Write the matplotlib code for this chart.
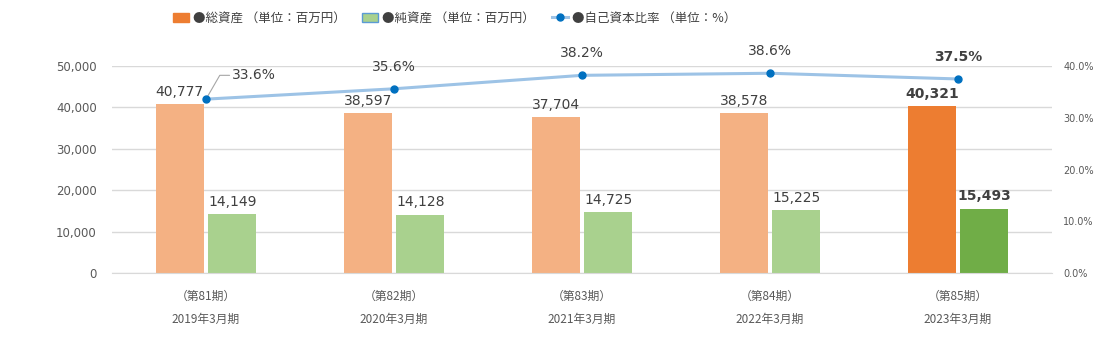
import matplotlib
matplotlib.use("Agg")
import matplotlib.pyplot as plt
import numpy as np
from matplotlib.lines import Line2D
from matplotlib.patches import Patch

plt.rcParams['font.family'] = ['Noto Sans CJK JP', 'DejaVu Sans']

# data
periods = ["（第81期）", "（第82期）", "（第83期）", "（第84期）", "（第85期）"]
years = ["2019年3月期", "2020年3月期", "2021年3月期", "2022年3月期", "2023年3月期"]
total_assets = [40777, 38597, 37704, 38578, 40321]
net_assets = [14149, 14128, 14725, 15225, 15493]
equity_ratio = [33.6, 35.6, 38.2, 38.6, 37.5]

orange_light = "#F4B183"
orange = "#ED7D31"
green_light = "#A9D18E"
green = "#70AD47"
line_col = "#9DC3E6"
marker_col = "#0070C0"
text_col = "#404040"
tick_col = "#595959"

fig = plt.figure(figsize=(10.94, 3.48), dpi=100)
ax = fig.add_axes([0.1024, 0.2155, 0.8592, 0.5948])
ax2 = ax.twinx()

x = np.arange(len(periods))
w = 0.255
gap = 0.024
n = len(periods)
c_total = [orange_light] * (n - 1) + [orange]
c_net = [green_light] * (n - 1) + [green]

ax.bar(x - w / 2 - gap / 2, total_assets, w, color=c_total, zorder=2)
ax.bar(x + w / 2 + gap / 2, net_assets, w, color=c_net, zorder=2)

for i in range(n):
    bold = 'bold' if i == n - 1 else 'normal'
    ax.text(x[i] - w / 2 - gap / 2, total_assets[i] + 1300, f"{total_assets[i]:,}",
            ha='center', va='bottom', fontsize=10, color=text_col, fontweight=bold,
            family='DejaVu Sans')
    ax.text(x[i] + w / 2 + gap / 2, net_assets[i] + 1300, f"{net_assets[i]:,}",
            ha='center', va='bottom', fontsize=10, color=text_col, fontweight=bold,
            family='DejaVu Sans')

ax.set_xlim(-0.5, n - 0.5)
ax.set_ylim(0, 50000)
ax.set_yticks(np.arange(0, 50001, 10000))
ax.set_yticklabels([f"{v:,}" for v in range(0, 50001, 10000)], family='DejaVu Sans')
ax.grid(axis='y', color='#D9D9D9', linewidth=1, zorder=0)
ax.set_axisbelow(True)
ax.tick_params(axis='y', length=0, labelsize=8.5, labelcolor=tick_col, pad=11)
ax.set_xticks(x)
ax.set_xticklabels([f"{p}\n{y}" for p, y in zip(periods, years)], linespacing=2.0)
ax.tick_params(axis='x', length=0, labelsize=8.5, labelcolor=tick_col, pad=12)
for s in ax.spines.values():
    s.set_visible(False)
ax.spines['bottom'].set_visible(True)
ax.spines['bottom'].set_color('#D9D9D9')

ax2.plot(x, equity_ratio, color=line_col, linewidth=2.2, zorder=3)
ax2.plot(x, equity_ratio, 'o', color=marker_col, markersize=5, zorder=4)
ax2.set_ylim(0, 40)
ax2.set_yticks(np.arange(0, 41, 10))
ax2.set_yticklabels([f"{v:.1f}%" for v in range(0, 41, 10)], family='DejaVu Sans')
ax2.tick_params(axis='y', length=0, labelsize=7, labelcolor=tick_col, pad=8)
for s in ax2.spines.values():
    s.set_visible(False)

# ratio labels
ax2.annotate(f"{equity_ratio[0]}%", xy=(x[0], equity_ratio[0]), xytext=(x[0] + 0.14, 38.2),
             ha='left', va='center', fontsize=10, color=text_col, family='DejaVu Sans',
             arrowprops=dict(arrowstyle='-', color='#A6A6A6', linewidth=0.8,
                             shrinkA=0, shrinkB=2,
                             connectionstyle='angle,angleA=0,angleB=60,rad=0'))
for i in range(1, n):
    bold = 'bold' if i == n - 1 else 'normal'
    ax2.text(x[i], equity_ratio[i] + 2.9, f"{equity_ratio[i]}%", ha='center', va='bottom',
             fontsize=10, color=text_col, fontweight=bold, family='DejaVu Sans')

# legend, one entry each so the positions follow the original
handles = [Patch(facecolor=orange, edgecolor=orange),
           Patch(facecolor=green_light, edgecolor='#5B9BD5'),
           Line2D([0], [0], color=line_col, linewidth=2.2, marker='o',
                  markerfacecolor=marker_col, markeredgecolor=marker_col, markersize=5)]
labels = ["●総資産 （単位：百万円）", "●純資産 （単位：百万円）", "●自己資本比率 （単位：%）"]
lefts = [173, 362, 552]
for h, lab, lx in zip(handles, labels, lefts):
    leg = fig.legend([h], [lab], loc='center left', bbox_to_anchor=(lx / 1094, 1 - 18 / 348),
                     frameon=False, fontsize=9, handlelength=1.3, handleheight=0.7,
                     handletextpad=0.3, borderpad=0, borderaxespad=0, labelcolor=text_col)

fig.savefig("out.png", dpi=100)
